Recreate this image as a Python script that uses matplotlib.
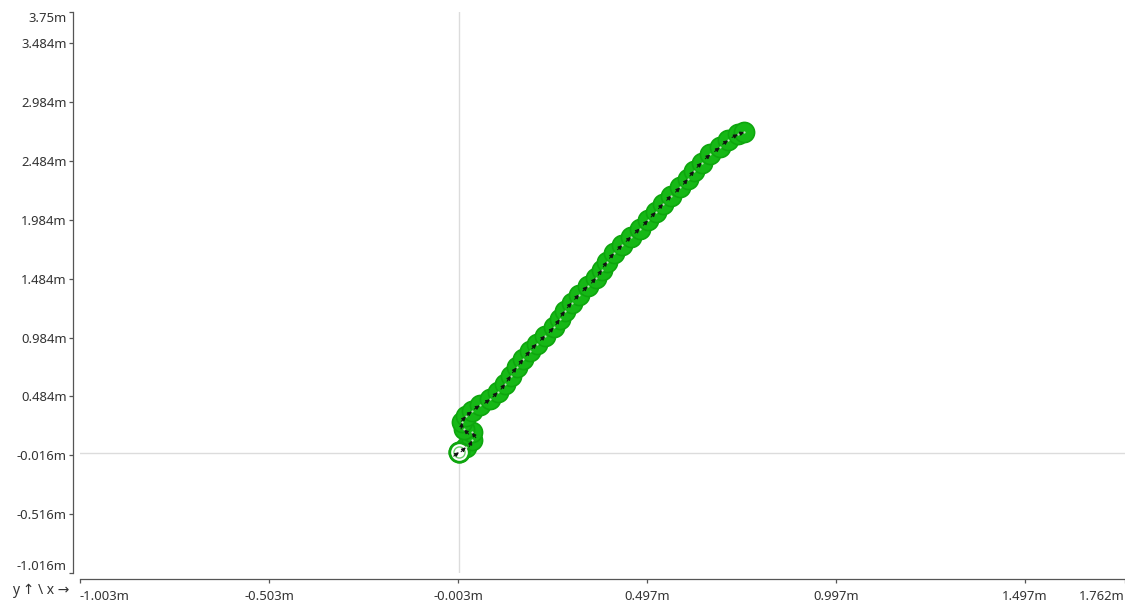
import numpy as np
import matplotlib
matplotlib.use("Agg")
import matplotlib.pyplot as plt

plt.rcParams["font.family"] = ["Noto Sans", "DejaVu Sans"]

# Robot trajectory (metres)
pos_x = [0.000, 0.018, 0.034, 0.034, 0.013, 0.008, 0.018, 0.034, 0.055,
         0.082, 0.102, 0.122, 0.137, 0.152, 0.170, 0.188, 0.205, 0.228,
         0.250, 0.266, 0.280, 0.298, 0.318, 0.340, 0.362, 0.378, 0.392,
         0.410, 0.432, 0.455, 0.478, 0.500, 0.520, 0.540, 0.562, 0.585,
         0.605, 0.622, 0.642, 0.665, 0.690, 0.712, 0.738, 0.755]
pos_y = [0.010, 0.052, 0.111, 0.179, 0.204, 0.264, 0.315, 0.357, 0.408,
         0.460, 0.520, 0.590, 0.660, 0.730, 0.800, 0.870, 0.930, 1.000,
         1.070, 1.140, 1.210, 1.280, 1.350, 1.420, 1.490, 1.560, 1.630,
         1.700, 1.770, 1.840, 1.910, 1.980, 2.050, 2.120, 2.190, 2.260,
         2.330, 2.400, 2.470, 2.540, 2.600, 2.660, 2.710, 2.730]

x_ticks = [-1.003, -0.503, -0.003, 0.497, 0.997, 1.497, 1.762]
y_ticks = [-1.016, -0.516, -0.016, 0.484, 0.984, 1.484, 1.984, 2.484, 2.984, 3.484, 3.75]
x_range = (-1.003, 1.762)
y_range = (-1.016, 3.75)

W, H = 1125, 603
fig = plt.figure(figsize=(W / 100, H / 100), dpi=100)
ax = fig.add_axes([80 / W, (H - 573) / H, (1125 - 80) / W, (573 - 12) / H])
ax.set_xlim(*x_range)
ax.set_ylim(*y_range)

# origin cross-hair
ax.axvline(0, color="#dcdcdc", lw=1.0, zorder=0)
ax.axhline(0, color="#dcdcdc", lw=1.0, zorder=0)

px = np.array(pos_x)
py = np.array(pos_y)

green_face = "#16b816"
green_edge = "#0ea60e"
ax.plot(px, py, ls="none", marker="o", ms=14.5, mfc=green_face,
        mec=green_edge, mew=1.2, zorder=2)
# start pose drawn as an open ring
ax.plot(px[:1], py[:1], ls="none", marker="o", ms=14, mfc="white",
        mec=green_edge, mew=2.0, zorder=3)
ax.plot(px[:1], py[:1], ls="none", marker="o", ms=8, mfc="none",
        mec="#6fce6f", mew=1.0, zorder=3)

# heading arrows, direction taken in screen space
sx = 1045 / (x_range[1] - x_range[0])
sy = 561 / (y_range[1] - y_range[0])
dx = np.gradient(px) * sx
dy = np.gradient(py) * sy
ang = np.arctan2(dy, dx)
half = 2.4  # points
for x, y, a in zip(px, py, ang):
    ux, uy = np.cos(a) * half, np.sin(a) * half
    ax.annotate("", xy=(x, y), xycoords="data",
                xytext=(-2 * ux, -2 * uy), textcoords="offset points",
                arrowprops=dict(arrowstyle="-|>,head_length=0.25,head_width=0.12",
                                color="#111111", lw=0.7,
                                shrinkA=0, shrinkB=0),
                zorder=4)
ax.plot(px, py, ls="none", marker="o", ms=1.6, mfc="white", mec="none",
        alpha=0.7, zorder=5)

ax.spines["top"].set_visible(False)
ax.spines["right"].set_visible(False)
ax.spines["left"].set_position(("outward", 5))
ax.spines["bottom"].set_position(("outward", 4.3))
for s in ("left", "bottom"):
    ax.spines[s].set_color("#555555")
    ax.spines[s].set_linewidth(0.9)

ax.set_xticks(x_ticks)
ax.set_yticks(y_ticks)
ax.set_xticklabels([f"{v:.3f}m" for v in x_ticks])
ax.set_yticklabels([f"{v:.3f}m".replace("3.750", "3.75") for v in y_ticks])
ax.tick_params(axis="both", direction="out", length=3, width=0.9,
               color="#555555", labelsize=9.4, labelcolor="#333333", pad=1.5)
ax.tick_params(axis="x", pad=5)

xl = ax.get_xticklabels()
xl[0].set_ha("left")
xl[-1].set_ha("right")
yl = ax.get_yticklabels()
yl[0].set_va("bottom")
yl[-1].set_va("top")

fig.text(12 / W, 1 - 590 / H, "y \u2191 \\ x \u2192", fontsize=10,
         color="#333333", va="center", ha="left")

fig.savefig("out.png", dpi=100)
